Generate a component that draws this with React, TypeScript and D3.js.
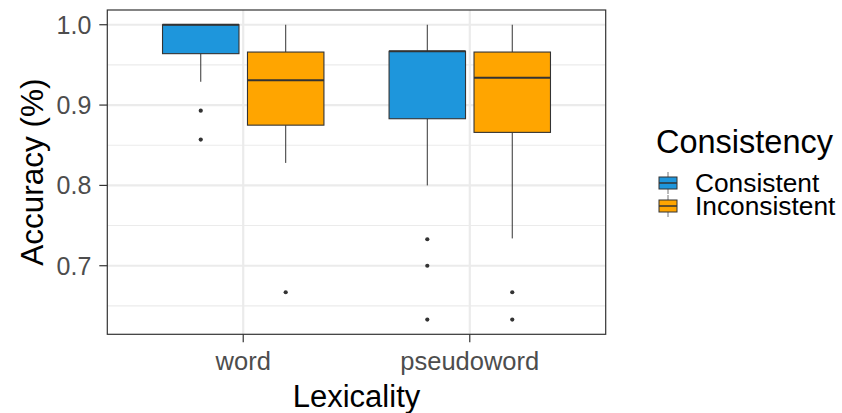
import React from 'react'
import * as d3 from 'd3'

// boxplot summary, one entry per box
const lexicality = ['word', 'pseudoword']
const consistency = ['Consistent', 'Inconsistent']
const boxLexicality = ['word', 'word', 'pseudoword', 'pseudoword']
const boxConsistency = ['Consistent', 'Inconsistent', 'Consistent', 'Inconsistent']
const whiskerLow = [0.929, 0.828, 0.800, 0.734]
const quartileLow = [0.964, 0.875, 0.883, 0.866]
const median = [1.0, 0.931, 0.967, 0.934]
const quartileHigh = [1.0, 0.966, 0.967, 0.966]
const whiskerHigh = [1.0, 1.0, 1.0, 1.0]
const outliers = [[0.893, 0.857], [0.667], [0.733, 0.7, 0.633], [0.667, 0.633]]
const yTicks = [0.7, 0.8, 0.9, 1.0]
const yMinor = [0.65, 0.75, 0.85, 0.95]

const W = 842
const H = 413
const panel = { left: 107.3, right: 605.7, top: 10, bottom: 334.3 }
const FONT = '"Liberation Sans", Arial, sans-serif'
const GRID = '#EBEBEB'
const INK = '#333333'

export default function App () {
  const color = d3.scaleOrdinal<string, string>()
    .domain(consistency)
    .range(['#1E96DC', '#FFA500'])

  const x = d3.scalePoint<string>()
    .domain(lexicality)
    .range([panel.left, panel.right])
    .padding(0.6)
  const step = x.step()

  const dodge = d3.scaleBand<string>()
    .domain(consistency)
    .range([-0.375 * step, 0.375 * step])
  const boxW = dodge.bandwidth() * 0.9

  // 5% expansion around the data range
  const lo = d3.min(outliers.flat().concat(whiskerLow)) as number
  const hi = d3.max(whiskerHigh) as number
  const pad = (hi - lo) * 0.05
  const y = d3.scaleLinear()
    .domain([lo - pad, hi + pad])
    .range([panel.bottom, panel.top])

  const boxes = boxLexicality.map((lex, i) => {
    const cons = boxConsistency[i]
    const cx = (x(lex) as number) + (dodge(cons) as number) + dodge.bandwidth() / 2
    return { i, cons, cx }
  })

  const legendRows = [183, 206]

  return (
    <svg width={W} height={H} style={{ position: 'absolute', left: 0, top: 0, background: '#fff' }} fontFamily={FONT}>
      {/* panel grid */}
      {yMinor.map(v => (
        <line key={'mi' + v} x1={panel.left} x2={panel.right} y1={y(v)} y2={y(v)} stroke={GRID} strokeWidth={1.1} />
      ))}
      {yTicks.map(v => (
        <line key={'ma' + v} x1={panel.left} x2={panel.right} y1={y(v)} y2={y(v)} stroke={GRID} strokeWidth={2.2} />
      ))}
      {lexicality.map(l => (
        <line key={'vx' + l} x1={x(l)} x2={x(l)} y1={panel.top} y2={panel.bottom} stroke={GRID} strokeWidth={2.2} />
      ))}

      {/* boxes */}
      {boxes.map(({ i, cons, cx }) => (
        <g key={'b' + i}>
          <line x1={cx} x2={cx} y1={y(whiskerHigh[i])} y2={y(quartileHigh[i])} stroke={INK} strokeWidth={1} />
          <line x1={cx} x2={cx} y1={y(quartileLow[i])} y2={y(whiskerLow[i])} stroke={INK} strokeWidth={1} />
          <rect x={cx - boxW / 2} width={boxW} y={y(quartileHigh[i])}
            height={y(quartileLow[i]) - y(quartileHigh[i])}
            fill={color(cons)} stroke={INK} strokeWidth={1.1} />
          <line x1={cx - boxW / 2} x2={cx + boxW / 2} y1={y(median[i])} y2={y(median[i])} stroke={INK} strokeWidth={2} />
          {outliers[i].map((v, j) => (
            <circle key={j} cx={cx} cy={y(v)} r={2.1} fill={INK} />
          ))}
        </g>
      ))}

      {/* panel border */}
      <rect x={panel.left} y={panel.top} width={panel.right - panel.left} height={panel.bottom - panel.top}
        fill='none' stroke={INK} strokeWidth={1.2} />

      {/* y axis */}
      {yTicks.map(v => (
        <g key={'yt' + v}>
          <line x1={panel.left - 8} x2={panel.left} y1={y(v)} y2={y(v)} stroke={INK} strokeWidth={1.2} />
          <text x={panel.left - 16} y={y(v)} dy='0.36em' textAnchor='end' fontSize={25} fill='#4D4D4D'>
            {v.toFixed(1)}
          </text>
        </g>
      ))}
      <text transform={`translate(43,${(panel.top + panel.bottom) / 2}) rotate(-90)`} textAnchor='middle'
        fontSize={31.5} fill='#000'>Accuracy (%)</text>

      {/* x axis */}
      {lexicality.map(l => (
        <g key={'xt' + l}>
          <line x1={x(l)} x2={x(l)} y1={panel.bottom} y2={panel.bottom + 8} stroke={INK} strokeWidth={1.2} />
          <text x={x(l)} y={369.5} textAnchor='middle' fontSize={25.5} fill='#4D4D4D'>{l}</text>
        </g>
      ))}
      <text x={(panel.left + panel.right) / 2} y={406.5} textAnchor='middle' fontSize={31} fill='#000'>Lexicality</text>

      {/* legend */}
      <text x={656} y={153} fontSize={32.5} fill='#000'>Consistency</text>
      {consistency.map((c, k) => {
        const cy = legendRows[k]
        return (
          <g key={'lg' + c}>
            <line x1={668} x2={668} y1={cy - 11} y2={cy + 11} stroke='#777' strokeWidth={1} />
            <rect x={659} y={cy - 6} width={18} height={12} fill={color(c)} stroke={INK} strokeWidth={1} />
            <line x1={659} x2={677} y1={cy} y2={cy} stroke={INK} strokeWidth={1.5} />
            <text x={695} y={cy + 9.3} fontSize={26.3} fill='#000'>{c}</text>
          </g>
        )
      })}
    </svg>
  )
}
